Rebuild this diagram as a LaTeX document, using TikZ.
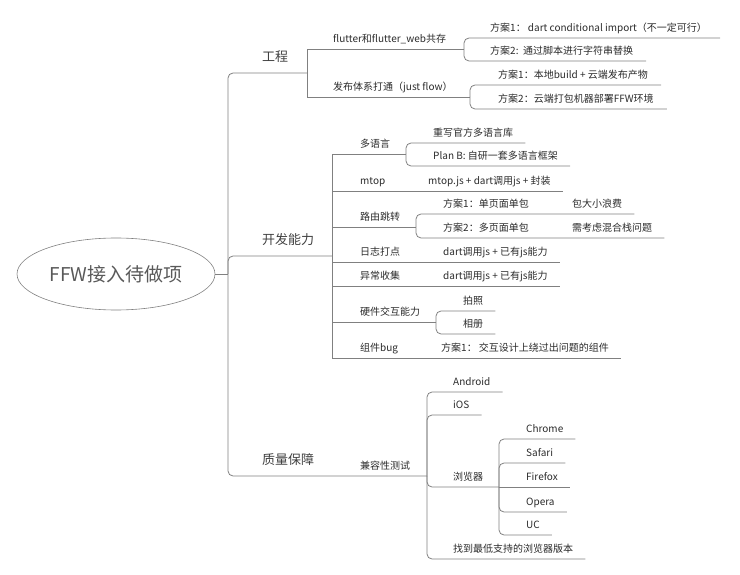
\documentclass[tikz,border=0pt]{standalone}
\usepackage{fontspec}
\setmainfont{Noto Sans CJK SC}
\usetikzlibrary{shapes.geometric}
\definecolor{linegray}{HTML}{808080}
\definecolor{txtgray}{HTML}{2B2B2B}

\begin{document}
\begin{tikzpicture}[x=1pt,y=-1pt,
  link/.style={draw=linegray,line width=0.8pt},
  round/.style={link,rounded corners=5pt},
  topic/.style={anchor=south west,inner xsep=0pt,inner ysep=3pt,text depth=3pt,text=txtgray,font=\fontsize{10}{12}\selectfont},
  lvone/.style={topic,inner ysep=8pt,text=black!75,font=\fontsize{13}{15}\selectfont}]
\useasboundingbox (0,0) rectangle (740,575);
\node[ellipse,draw=linegray,line width=0.6pt,minimum width=198pt,minimum height=72pt,text=black!65,font=\fontsize{19}{22}\selectfont] (root) at (116,274) {FFW接入待做项};
\coordinate (trunk) at (228,274);
\coordinate (engB) at (307,73);
\coordinate (devB) at (332,256);
\coordinate (compB) at (427,476);
\coordinate (flutB) at (464,49);
\coordinate (pubB) at (470,97);
\coordinate (langB) at (406,154);
\coordinate (routeB) at (416,227);
\coordinate (hwB) at (436,322);
\coordinate (browB) at (499,487);
\node[lvone] (eng) at (262,73) {工程};
\node[lvone] (dev) at (262,256) {开发能力};
\node[lvone] (qa) at (262,476) {质量保障};
\node[topic] (flut) at (333,49) {flutter和flutter\_web共存};
\node[topic] (pub) at (333,97) {发布体系打通（just flow）};
\node[topic] (flutOne) at (490,38) {方案1： dart conditional import（不一定可行）};
\node[topic] (flutTwo) at (490,61) {方案2:\ \ 通过脚本进行字符串替换};
\node[topic] (pubOne) at (498,85) {方案1：本地build + 云端发布产物};
\node[topic] (pubTwo) at (498,109) {方案2：云端打包机器部署FFW环境};
\node[topic] (lang) at (360,154) {多语言};
\node[topic] (langOne) at (433,143) {重写官方多语言库};
\node[topic] (langTwo) at (433,166) {Plan B: 自研一套多语言框架};
\node[topic] (mtop) at (360,191) {mtop};
\node[topic] (mtopJs) at (428,191) {mtop.js + dart调用js + 封装};
\node[topic] (route) at (360,227) {路由跳转};
\node[topic] (routeOne) at (443,214) {方案1：单页面单包};
\node[topic] (routeOneNote) at (572,214) {包大小浪费};
\node[topic] (routeTwo) at (443,238) {方案2：多页面单包};
\node[topic] (routeTwoNote) at (572,238) {需考虑混合栈问题};
\node[topic] (log) at (360,262) {日志打点};
\node[topic] (logJs) at (443,262) {dart调用js + 已有js能力};
\node[topic] (err) at (360,286) {异常收集};
\node[topic] (errJs) at (443,286) {dart调用js + 已有js能力};
\node[topic] (hw) at (360,322) {硬件交互能力};
\node[topic] (photo) at (463,311) {拍照};
\node[topic] (album) at (463,334) {相册};
\node[topic] (widget) at (360,358) {组件bug};
\node[topic] (widgetFix) at (441,358) {方案1： 交互设计上绕过出问题的组件};
\node[topic] (compat) at (360,476) {兼容性测试};
\node[topic] (android) at (453,392) {Android};
\node[topic] (ios) at (453,415) {iOS};
\node[topic] (brow) at (453,487) {浏览器};
\node[topic] (lowest) at (453,559) {找到最低支持的浏览器版本};
\node[topic] (chrome) at (526,439) {Chrome};
\node[topic] (safari) at (526,463) {Safari};
\node[topic] (firefox) at (526,487) {Firefox};
\node[topic] (opera) at (526,512) {Opera};
\node[topic] (uc) at (526,535) {UC};
\draw[link] (root.east) -- (trunk);
\draw[round] (trunk) |- (engB);
\draw[round] (trunk) |- (devB);
\draw[round] (trunk) |- (compB);
\draw[link] (engB) |- (flutB);
\draw[link] (engB) |- (pubB);
\draw[round] (flutB) |- ([xshift=13pt]flutOne.south east);
\draw[round] (flutB) |- ([xshift=13pt]flutTwo.south east);
\draw[round] (pubB) |- ([xshift=13pt]pubOne.south east);
\draw[round] (pubB) |- ([xshift=13pt]pubTwo.south east);
\draw[link] (devB) |- (langB);
\draw[link] (devB) |- ([xshift=12pt]mtopJs.south east);
\draw[link] (devB) |- (routeB);
\draw[link] (devB) |- ([xshift=12pt]logJs.south east);
\draw[link] (devB) |- ([xshift=12pt]errJs.south east);
\draw[link] (devB) |- (hwB);
\draw[link] (devB) |- ([xshift=12pt]widgetFix.south east);
\draw[round] (langB) |- ([xshift=12pt]langOne.south east);
\draw[round] (langB) |- ([xshift=12pt]langTwo.south east);
\draw[round] (routeB) |- ([xshift=12pt]routeOneNote.south east);
\draw[round] (routeB) |- ([xshift=12pt]routeTwoNote.south east);
\draw[round] (hwB) |- ([xshift=12pt]photo.south east);
\draw[round] (hwB) |- ([xshift=12pt]album.south east);
\draw[round] (compB) |- ([xshift=12pt]android.south east);
\draw[round] (compB) |- ([xshift=12pt]ios.south east);
\draw[round] (compB) |- (browB);
\draw[round] (compB) |- ([xshift=12pt]lowest.south east);
\draw[round] (browB) |- ([xshift=12pt]chrome.south east);
\draw[round] (browB) |- ([xshift=12pt]safari.south east);
\draw[link] (browB) -- ([xshift=12pt]firefox.south east);
\draw[round] (browB) |- ([xshift=12pt]opera.south east);
\draw[round] (browB) |- ([xshift=12pt]uc.south east);
\end{tikzpicture}
\end{document}
